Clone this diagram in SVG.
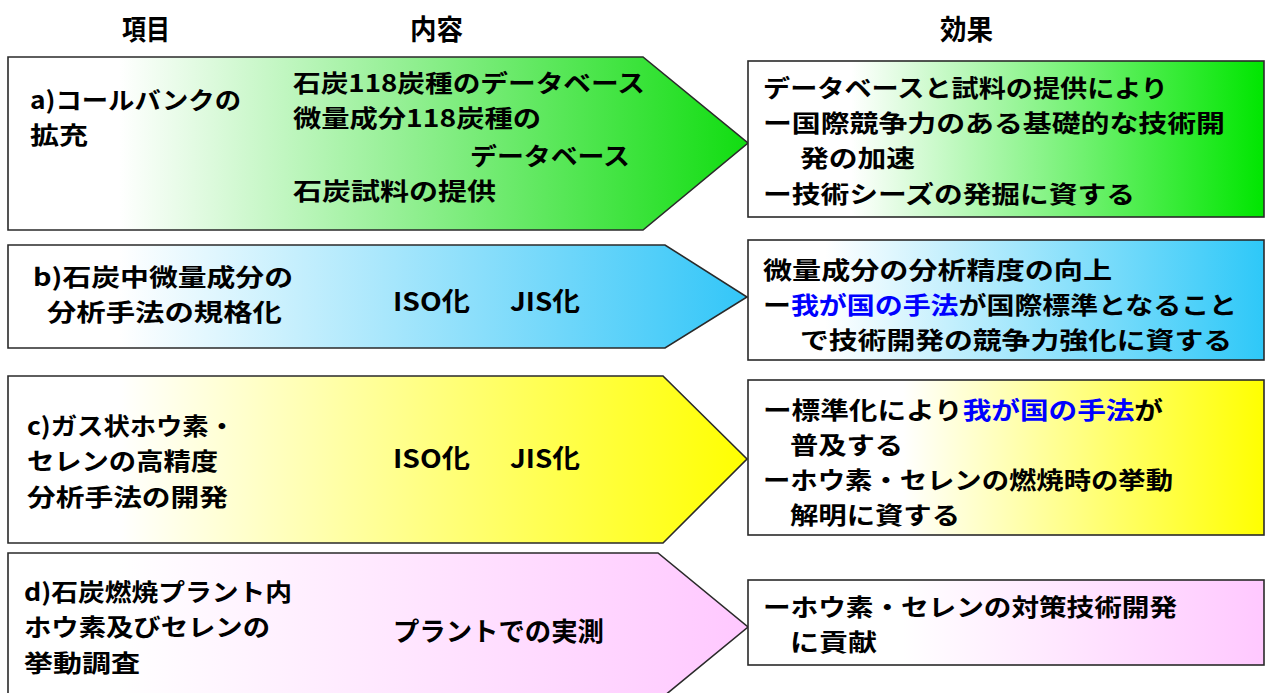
<svg xmlns="http://www.w3.org/2000/svg" width="1266" height="693" viewBox="0 0 1266 693">
<defs>
<linearGradient id="gA" x1="0" y1="0" x2="1" y2="0"><stop offset="0" stop-color="#ffffff"/><stop offset="0.15" stop-color="#ffffff"/><stop offset="1" stop-color="#11dd11"/></linearGradient>
<linearGradient id="gB" x1="0" y1="0" x2="1" y2="0"><stop offset="0" stop-color="#ffffff"/><stop offset="0.15" stop-color="#ffffff"/><stop offset="1" stop-color="#33c6f8"/></linearGradient>
<linearGradient id="gC" x1="0" y1="0" x2="1" y2="0"><stop offset="0" stop-color="#ffffff"/><stop offset="0.15" stop-color="#ffffff"/><stop offset="1" stop-color="#ffff00"/></linearGradient>
<linearGradient id="gD" x1="0" y1="0" x2="1" y2="0"><stop offset="0" stop-color="#ffffff"/><stop offset="0.15" stop-color="#ffffff"/><stop offset="1" stop-color="#ffc8ff"/></linearGradient>
<linearGradient id="bA" x1="0" y1="0" x2="1" y2="0"><stop offset="0" stop-color="#ffffff"/><stop offset="0.2" stop-color="#ffffff"/><stop offset="1" stop-color="#00e600"/></linearGradient>
<linearGradient id="bB" x1="0" y1="0" x2="1" y2="0"><stop offset="0" stop-color="#ffffff"/><stop offset="0.15" stop-color="#ffffff"/><stop offset="1" stop-color="#2ec8f8"/></linearGradient>
<linearGradient id="bC" x1="0" y1="0" x2="1" y2="0"><stop offset="0" stop-color="#ffffff"/><stop offset="0.3" stop-color="#ffffff"/><stop offset="1" stop-color="#ffff00"/></linearGradient>
<linearGradient id="bD" x1="0" y1="0" x2="1" y2="0"><stop offset="0" stop-color="#ffffff"/><stop offset="0.3" stop-color="#ffffff"/><stop offset="1" stop-color="#ffc8ff"/></linearGradient>
</defs>
<style>
.shape{stroke:#2a2a2a;stroke-width:1.6}
text{font-family:"Noto Sans CJK JP","Noto Sans CJK SC",sans-serif;font-weight:bold;fill:#000}
.h{font-size:28px}
.l{font-size:24px}
.s{font-size:26px}
.r{font-size:24px}
.blue{fill:#0000ff}
</style>
<g id="headers">
<text class="h" x="122" y="40" textLength="48" lengthAdjust="spacingAndGlyphs">項目</text>
<text class="h" x="410" y="40" textLength="53" lengthAdjust="spacingAndGlyphs">内容</text>
<text class="h" x="940" y="40" textLength="53" lengthAdjust="spacingAndGlyphs">効果</text>
</g>
<g id="connectors"></g>
<g id="item-a">
<polygon class="shape" fill="url(#gA)" points="8,57 643,57 748,143 643,230 8,230"/>
<text class="l" x="30" y="109" textLength="211" lengthAdjust="spacingAndGlyphs">a)コールバンクの</text>
<text class="l" x="30" y="144" textLength="58" lengthAdjust="spacingAndGlyphs">拡充</text>
<text class="l" x="293" y="92" textLength="352" lengthAdjust="spacingAndGlyphs">石炭118炭種のデータベース</text>
<text class="l" x="293" y="127" textLength="248" lengthAdjust="spacingAndGlyphs">微量成分118炭種の</text>
<text class="l" x="470" y="165" textLength="160" lengthAdjust="spacingAndGlyphs">データベース</text>
<text class="l" x="293" y="200" textLength="203" lengthAdjust="spacingAndGlyphs">石炭試料の提供</text>
</g>
<g id="effect-a">
<rect class="shape" fill="url(#bA)" x="748" y="61" width="516" height="156"/>
<text class="r" x="763" y="97" textLength="405" lengthAdjust="spacingAndGlyphs">データベースと試料の提供により</text>
<text class="r" x="763" y="132" textLength="462" lengthAdjust="spacingAndGlyphs">ー国際競争力のある基礎的な技術開</text>
<text class="r" x="800" y="167" textLength="115" lengthAdjust="spacingAndGlyphs">発の加速</text>
<text class="r" x="763" y="203" textLength="372" lengthAdjust="spacingAndGlyphs">ー技術シーズの発掘に資する</text>
</g>
<g id="item-b">
<polygon class="shape" fill="url(#gB)" points="8,245 665,245 747,297 665,348 8,348"/>
<text class="l" x="33" y="286" textLength="260" lengthAdjust="spacingAndGlyphs">b)石炭中微量成分の</text>
<text class="l" x="47" y="321" textLength="235" lengthAdjust="spacingAndGlyphs">分析手法の規格化</text>
<text class="s" x="393" y="311" textLength="77" lengthAdjust="spacingAndGlyphs">ISO化</text>
<text class="s" x="510" y="311" textLength="70" lengthAdjust="spacingAndGlyphs">JIS化</text>
</g>
<g id="effect-b">
<rect class="shape" fill="url(#bB)" x="748" y="240" width="516" height="120"/>
<text class="r" x="763" y="279" textLength="349" lengthAdjust="spacingAndGlyphs">微量成分の分析精度の向上</text>
<text class="r" x="763" y="314" textLength="474" lengthAdjust="spacingAndGlyphs">ー<tspan class="blue">我が国の手法</tspan>が国際標準となること</text>
<text class="r" x="800" y="349" textLength="432" lengthAdjust="spacingAndGlyphs">で技術開発の競争力強化に資する</text>
</g>
<g id="item-c">
<polygon class="shape" fill="url(#gC)" points="8,376 663,376 747,459 663,543 8,543"/>
<text class="l" x="27" y="435" textLength="208" lengthAdjust="spacingAndGlyphs">c)ガス状ホウ素・</text>
<text class="l" x="27" y="470" textLength="191" lengthAdjust="spacingAndGlyphs">セレンの高精度</text>
<text class="l" x="27" y="506" textLength="201" lengthAdjust="spacingAndGlyphs">分析手法の開発</text>
<text class="s" x="393" y="468" textLength="77" lengthAdjust="spacingAndGlyphs">ISO化</text>
<text class="s" x="510" y="468" textLength="70" lengthAdjust="spacingAndGlyphs">JIS化</text>
</g>
<g id="effect-c">
<rect class="shape" fill="url(#bC)" x="748" y="380" width="516" height="155"/>
<text class="r" x="763" y="419" textLength="400" lengthAdjust="spacingAndGlyphs">ー標準化により<tspan class="blue">我が国の手法</tspan>が</text>
<text class="r" x="790" y="454" textLength="113" lengthAdjust="spacingAndGlyphs">普及する</text>
<text class="r" x="763" y="489" textLength="410" lengthAdjust="spacingAndGlyphs">ーホウ素・セレンの燃焼時の挙動</text>
<text class="r" x="790" y="524" textLength="170" lengthAdjust="spacingAndGlyphs">解明に資する</text>
</g>
<g id="item-d">
<polygon class="shape" fill="url(#gD)" points="8,553 658,553 748,627 658,701 8,701"/>
<text class="l" x="24" y="601" textLength="268" lengthAdjust="spacingAndGlyphs">d)石炭燃焼プラント内</text>
<text class="l" x="24" y="636" textLength="246" lengthAdjust="spacingAndGlyphs">ホウ素及びセレンの</text>
<text class="l" x="24" y="672" textLength="116" lengthAdjust="spacingAndGlyphs">挙動調査</text>
<text class="s" x="393" y="641" textLength="211" lengthAdjust="spacingAndGlyphs">プラントでの実測</text>
</g>
<g id="effect-d">
<rect class="shape" fill="url(#bD)" x="748" y="580" width="516" height="85"/>
<text class="r" x="763" y="616" textLength="414" lengthAdjust="spacingAndGlyphs">ーホウ素・セレンの対策技術開発</text>
<text class="r" x="790" y="651" textLength="87" lengthAdjust="spacingAndGlyphs">に貢献</text>
</g>
</svg>
